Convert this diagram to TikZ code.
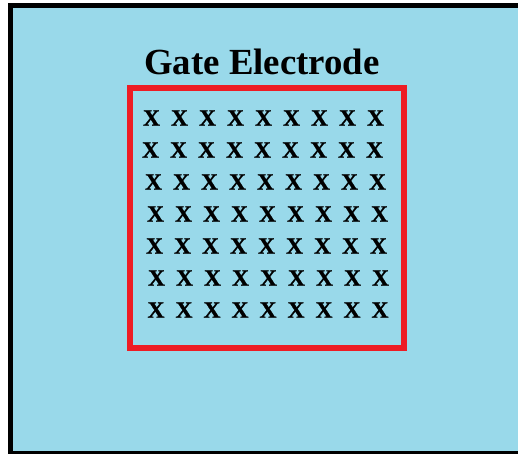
\documentclass[tikz,border=0pt]{standalone}
\usepackage{fontspec}
\setmainfont{Liberation Serif}
\newfontfamily\heavyserif{Liberation Serif}[BoldFeatures={FakeBold=1.2}]
\definecolor{panelblue}{HTML}{99D9EA}
\definecolor{framered}{HTML}{ED1C24}
\begin{document}
\begin{tikzpicture}[x=1pt,y=-1pt,
  title/.style={font=\fontsize{36.8}{40}\selectfont\bfseries, inner sep=0pt, anchor=base},
  xmark/.style={font=\heavyserif\fontsize{23.5}{26}\selectfont\bfseries, inner sep=0pt, anchor=center},
  electrode/.style={draw=framered, line width=6pt}]
\useasboundingbox (0,0) rectangle (518,454);
\fill[white] (0,0) rectangle (518,454);
% outer panel
\fill[panelblue] (13,8) rectangle (518,451);
\fill[black] (8,3) rectangle (13,454);
\fill[black] (8,3) rectangle (518,8);
\fill[black] (8,451) rectangle (518,454);
% title
\node[title] (title) at (262,75) {Gate Electrode};
% gate electrode frame
\draw[electrode] (130,88) rectangle (403.5,348);
% charges
\foreach \r/\xs/\y in {1/151.5/118, 2/150.5/150, 3/153.5/182, 4/155.5/214, 5/154.5/246, 6/156.5/278, 7/156/310}{
  \foreach \c in {0,...,8}{
    \node[xmark] (x\r-\c) at ({\xs+28*\c},\y) {X};
  }
}
\end{tikzpicture}
\end{document}
